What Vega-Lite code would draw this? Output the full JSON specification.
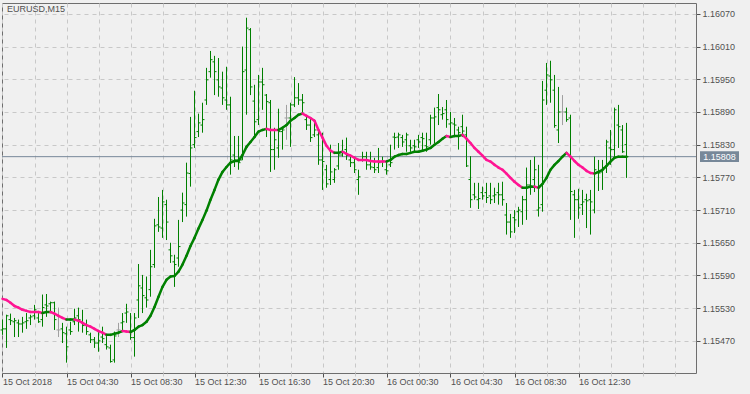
{
  "$schema": "https://vega.github.io/schema/vega-lite/v6.json",
  "width": 694,
  "height": 370,
  "autosize": {"type": "none"},
  "padding": {"left": 2, "top": 3, "right": 54, "bottom": 21},
  "background": "#f0f0f0",
  "config": {
    "view": {"stroke": "#6e6e6e", "strokeWidth": 1, "fill": "#f0f0f0"},
    "font": "Liberation Sans",
    "axis": {
      "grid": true, "gridDash": [4, 4], "gridColor": "#c8c8c8", "gridWidth": 1,
      "domain": false, "tickColor": "#505050",
      "labelFont": "Liberation Sans", "labelFontSize": 9, "labelColor": "#505050",
      "labelOverlap": false, "labelBound": false, "labelFlush": false, "title": null
    }
  },
  "title": {"text": "EURUSD,M15", "anchor": "start", "frame": "group", "offset": -11, "dx": 5, "fontSize": 9, "font": "Liberation Sans", "fontWeight": "normal", "color": "#505050"},
  "datasets": {
    "bars": [
      {"i":0,"o":1.15490,"h":1.15509,"l":1.15481,"c":1.15492,"ma":1.15547,"d":"d"},
      {"i":1,"o":1.15492,"h":1.15518,"l":1.15457,"c":1.15516,"ma":1.15545,"d":"d"},
      {"i":2,"o":1.15509,"h":1.15520,"l":1.15499,"c":1.15507,"ma":1.15540,"d":"d"},
      {"i":3,"o":1.15505,"h":1.15512,"l":1.15477,"c":1.15507,"ma":1.15534,"d":"d"},
      {"i":4,"o":1.15503,"h":1.15509,"l":1.15477,"c":1.15501,"ma":1.15531,"d":"d"},
      {"i":5,"o":1.15501,"h":1.15514,"l":1.15485,"c":1.15503,"ma":1.15527,"d":"d"},
      {"i":6,"o":1.15505,"h":1.15521,"l":1.15492,"c":1.15507,"ma":1.15525,"d":"d"},
      {"i":7,"o":1.15512,"h":1.15518,"l":1.15499,"c":1.15514,"ma":1.15523,"d":"d"},
      {"i":8,"o":1.15516,"h":1.15536,"l":1.15509,"c":1.15527,"ma":1.15523,"d":"d"},
      {"i":9,"o":1.15512,"h":1.15521,"l":1.15503,"c":1.15505,"ma":1.15523,"d":"d"},
      {"i":10,"o":1.15509,"h":1.15555,"l":1.15496,"c":1.15531,"ma":1.15521,"d":"d"},
      {"i":11,"o":1.15536,"h":1.15556,"l":1.15514,"c":1.15534,"ma":1.15523,"d":"u"},
      {"i":12,"o":1.15538,"h":1.15542,"l":1.15521,"c":1.15540,"ma":1.15523,"d":"u"},
      {"i":13,"o":1.15540,"h":1.15542,"l":1.15490,"c":1.15509,"ma":1.15520,"d":"d"},
      {"i":14,"o":1.15490,"h":1.15531,"l":1.15477,"c":1.15490,"ma":1.15516,"d":"d"},
      {"i":15,"o":1.15492,"h":1.15503,"l":1.15466,"c":1.15485,"ma":1.15512,"d":"d"},
      {"i":16,"o":1.15483,"h":1.15496,"l":1.15430,"c":1.15459,"ma":1.15509,"d":"d"},
      {"i":17,"o":1.15490,"h":1.15505,"l":1.15481,"c":1.15487,"ma":1.15509,"d":"u"},
      {"i":18,"o":1.15505,"h":1.15529,"l":1.15499,"c":1.15512,"ma":1.15509,"d":"u"},
      {"i":19,"o":1.15516,"h":1.15531,"l":1.15487,"c":1.15509,"ma":1.15507,"d":"d"},
      {"i":20,"o":1.15505,"h":1.15527,"l":1.15485,"c":1.15498,"ma":1.15503,"d":"d"},
      {"i":21,"o":1.15499,"h":1.15509,"l":1.15481,"c":1.15487,"ma":1.15499,"d":"d"},
      {"i":22,"o":1.15481,"h":1.15485,"l":1.15466,"c":1.15472,"ma":1.15496,"d":"d"},
      {"i":23,"o":1.15472,"h":1.15477,"l":1.15457,"c":1.15466,"ma":1.15492,"d":"d"},
      {"i":24,"o":1.15466,"h":1.15490,"l":1.15450,"c":1.15470,"ma":1.15488,"d":"d"},
      {"i":25,"o":1.15477,"h":1.15496,"l":1.15466,"c":1.15474,"ma":1.15485,"d":"d"},
      {"i":26,"o":1.15463,"h":1.15481,"l":1.15454,"c":1.15459,"ma":1.15481,"d":"d"},
      {"i":27,"o":1.15457,"h":1.15463,"l":1.15430,"c":1.15432,"ma":1.15481,"d":"u"},
      {"i":28,"o":1.15435,"h":1.15487,"l":1.15430,"c":1.15479,"ma":1.15483,"d":"u"},
      {"i":29,"o":1.15490,"h":1.15503,"l":1.15477,"c":1.15490,"ma":1.15485,"d":"u"},
      {"i":30,"o":1.15503,"h":1.15521,"l":1.15487,"c":1.15505,"ma":1.15488,"d":"u"},
      {"i":31,"o":1.15521,"h":1.15538,"l":1.15503,"c":1.15523,"ma":1.15487,"d":"d"},
      {"i":32,"o":1.15488,"h":1.15521,"l":1.15472,"c":1.15476,"ma":1.15486,"d":"d"},
      {"i":33,"o":1.15476,"h":1.15521,"l":1.15441,"c":1.15512,"ma":1.15490,"d":"u"},
      {"i":34,"o":1.15545,"h":1.15611,"l":1.15512,"c":1.15571,"ma":1.15496,"d":"u"},
      {"i":35,"o":1.15567,"h":1.15591,"l":1.15521,"c":1.15553,"ma":1.15499,"d":"u"},
      {"i":36,"o":1.15549,"h":1.15588,"l":1.15531,"c":1.15545,"ma":1.15505,"d":"u"},
      {"i":37,"o":1.15564,"h":1.15637,"l":1.15551,"c":1.15606,"ma":1.15516,"d":"u"},
      {"i":38,"o":1.15610,"h":1.15694,"l":1.15604,"c":1.15681,"ma":1.15532,"d":"u"},
      {"i":39,"o":1.15683,"h":1.15734,"l":1.15670,"c":1.15679,"ma":1.15551,"d":"u"},
      {"i":40,"o":1.15677,"h":1.15747,"l":1.15659,"c":1.15725,"ma":1.15569,"d":"u"},
      {"i":41,"o":1.15720,"h":1.15729,"l":1.15655,"c":1.15688,"ma":1.15582,"d":"u"},
      {"i":42,"o":1.15637,"h":1.15650,"l":1.15613,"c":1.15626,"ma":1.15588,"d":"u"},
      {"i":43,"o":1.15615,"h":1.15628,"l":1.15569,"c":1.15610,"ma":1.15589,"d":"u"},
      {"i":44,"o":1.15622,"h":1.15692,"l":1.15606,"c":1.15643,"ma":1.15597,"d":"u"},
      {"i":45,"o":1.15710,"h":1.15742,"l":1.15688,"c":1.15723,"ma":1.15610,"d":"u"},
      {"i":46,"o":1.15720,"h":1.15797,"l":1.15698,"c":1.15778,"ma":1.15626,"d":"u"},
      {"i":47,"o":1.15777,"h":1.15881,"l":1.15753,"c":1.15824,"ma":1.15644,"d":"u"},
      {"i":48,"o":1.15830,"h":1.15929,"l":1.15824,"c":1.15843,"ma":1.15659,"d":"u"},
      {"i":49,"o":1.15854,"h":1.15887,"l":1.15844,"c":1.15870,"ma":1.15676,"d":"u"},
      {"i":50,"o":1.15866,"h":1.15907,"l":1.15852,"c":1.15876,"ma":1.15692,"d":"u"},
      {"i":51,"o":1.15912,"h":1.15971,"l":1.15903,"c":1.15949,"ma":1.15709,"d":"u"},
      {"i":52,"o":1.15964,"h":1.16002,"l":1.15953,"c":1.15986,"ma":1.15729,"d":"u"},
      {"i":53,"o":1.15982,"h":1.15993,"l":1.15921,"c":1.15964,"ma":1.15747,"d":"u"},
      {"i":54,"o":1.15949,"h":1.15989,"l":1.15918,"c":1.15936,"ma":1.15766,"d":"u"},
      {"i":55,"o":1.15934,"h":1.15964,"l":1.15903,"c":1.15916,"ma":1.15780,"d":"u"},
      {"i":56,"o":1.15912,"h":1.15973,"l":1.15894,"c":1.15903,"ma":1.15789,"d":"u"},
      {"i":57,"o":1.15903,"h":1.15918,"l":1.15775,"c":1.15802,"ma":1.15797,"d":"u"},
      {"i":58,"o":1.15811,"h":1.15846,"l":1.15789,"c":1.15802,"ma":1.15800,"d":"u"},
      {"i":59,"o":1.15802,"h":1.15846,"l":1.15784,"c":1.15797,"ma":1.15800,"d":"u"},
      {"i":60,"o":1.15802,"h":1.16010,"l":1.15802,"c":1.15964,"ma":1.15811,"d":"u"},
      {"i":61,"o":1.15967,"h":1.16063,"l":1.15885,"c":1.16044,"ma":1.15826,"d":"u"},
      {"i":62,"o":1.16041,"h":1.16044,"l":1.15921,"c":1.15936,"ma":1.15835,"d":"u"},
      {"i":63,"o":1.15910,"h":1.15940,"l":1.15843,"c":1.15872,"ma":1.15844,"d":"u"},
      {"i":64,"o":1.15876,"h":1.15958,"l":1.15866,"c":1.15945,"ma":1.15854,"d":"u"},
      {"i":65,"o":1.15945,"h":1.15971,"l":1.15894,"c":1.15940,"ma":1.15857,"d":"u"},
      {"i":66,"o":1.15921,"h":1.15923,"l":1.15844,"c":1.15909,"ma":1.15859,"d":"u"},
      {"i":67,"o":1.15907,"h":1.15912,"l":1.15780,"c":1.15821,"ma":1.15857,"d":"d"},
      {"i":68,"o":1.15821,"h":1.15861,"l":1.15784,"c":1.15839,"ma":1.15857,"d":"d"},
      {"i":69,"o":1.15824,"h":1.15896,"l":1.15806,"c":1.15854,"ma":1.15857,"d":"d"},
      {"i":70,"o":1.15854,"h":1.15861,"l":1.15821,"c":1.15857,"ma":1.15861,"d":"u"},
      {"i":71,"o":1.15879,"h":1.15903,"l":1.15839,"c":1.15879,"ma":1.15866,"d":"u"},
      {"i":72,"o":1.15879,"h":1.15907,"l":1.15826,"c":1.15903,"ma":1.15874,"d":"u"},
      {"i":73,"o":1.15903,"h":1.15954,"l":1.15899,"c":1.15916,"ma":1.15879,"d":"u"},
      {"i":74,"o":1.15916,"h":1.15943,"l":1.15903,"c":1.15912,"ma":1.15885,"d":"u"},
      {"i":75,"o":1.15912,"h":1.15923,"l":1.15888,"c":1.15907,"ma":1.15887,"d":"u"},
      {"i":76,"o":1.15876,"h":1.15881,"l":1.15857,"c":1.15866,"ma":1.15883,"d":"d"},
      {"i":77,"o":1.15866,"h":1.15879,"l":1.15835,"c":1.15843,"ma":1.15879,"d":"d"},
      {"i":78,"o":1.15848,"h":1.15876,"l":1.15844,"c":1.15857,"ma":1.15874,"d":"d"},
      {"i":79,"o":1.15848,"h":1.15857,"l":1.15793,"c":1.15802,"ma":1.15857,"d":"d"},
      {"i":80,"o":1.15802,"h":1.15852,"l":1.15747,"c":1.15799,"ma":1.15843,"d":"d"},
      {"i":81,"o":1.15784,"h":1.15793,"l":1.15751,"c":1.15758,"ma":1.15828,"d":"d"},
      {"i":82,"o":1.15766,"h":1.15830,"l":1.15756,"c":1.15780,"ma":1.15819,"d":"d"},
      {"i":83,"o":1.15766,"h":1.15787,"l":1.15760,"c":1.15784,"ma":1.15815,"d":"d"},
      {"i":84,"o":1.15791,"h":1.15833,"l":1.15784,"c":1.15811,"ma":1.15815,"d":"u"},
      {"i":85,"o":1.15811,"h":1.15839,"l":1.15808,"c":1.15817,"ma":1.15817,"d":"u"},
      {"i":86,"o":1.15821,"h":1.15843,"l":1.15802,"c":1.15810,"ma":1.15813,"d":"d"},
      {"i":87,"o":1.15802,"h":1.15811,"l":1.15789,"c":1.15797,"ma":1.15810,"d":"d"},
      {"i":88,"o":1.15797,"h":1.15808,"l":1.15778,"c":1.15784,"ma":1.15806,"d":"d"},
      {"i":89,"o":1.15766,"h":1.15784,"l":1.15738,"c":1.15771,"ma":1.15802,"d":"d"},
      {"i":90,"o":1.15802,"h":1.15817,"l":1.15799,"c":1.15808,"ma":1.15802,"d":"d"},
      {"i":91,"o":1.15808,"h":1.15817,"l":1.15784,"c":1.15793,"ma":1.15802,"d":"d"},
      {"i":92,"o":1.15793,"h":1.15817,"l":1.15784,"c":1.15789,"ma":1.15800,"d":"d"},
      {"i":93,"o":1.15788,"h":1.15806,"l":1.15778,"c":1.15784,"ma":1.15799,"d":"d"},
      {"i":94,"o":1.15788,"h":1.15824,"l":1.15778,"c":1.15797,"ma":1.15799,"d":"d"},
      {"i":95,"o":1.15799,"h":1.15808,"l":1.15789,"c":1.15800,"ma":1.15799,"d":"d"},
      {"i":96,"o":1.15784,"h":1.15802,"l":1.15775,"c":1.15782,"ma":1.15799,"d":"d"},
      {"i":97,"o":1.15793,"h":1.15830,"l":1.15789,"c":1.15797,"ma":1.15802,"d":"u"},
      {"i":98,"o":1.15844,"h":1.15852,"l":1.15821,"c":1.15843,"ma":1.15808,"d":"u"},
      {"i":99,"o":1.15844,"h":1.15852,"l":1.15824,"c":1.15848,"ma":1.15811,"d":"u"},
      {"i":100,"o":1.15843,"h":1.15848,"l":1.15826,"c":1.15835,"ma":1.15813,"d":"u"},
      {"i":101,"o":1.15839,"h":1.15852,"l":1.15817,"c":1.15848,"ma":1.15813,"d":"u"},
      {"i":102,"o":1.15828,"h":1.15839,"l":1.15817,"c":1.15824,"ma":1.15815,"d":"u"},
      {"i":103,"o":1.15828,"h":1.15839,"l":1.15817,"c":1.15826,"ma":1.15817,"d":"u"},
      {"i":104,"o":1.15839,"h":1.15848,"l":1.15824,"c":1.15835,"ma":1.15817,"d":"u"},
      {"i":105,"o":1.15843,"h":1.15852,"l":1.15817,"c":1.15841,"ma":1.15819,"d":"u"},
      {"i":106,"o":1.15828,"h":1.15852,"l":1.15817,"c":1.15826,"ma":1.15821,"d":"u"},
      {"i":107,"o":1.15839,"h":1.15885,"l":1.15830,"c":1.15879,"ma":1.15824,"d":"u"},
      {"i":108,"o":1.15879,"h":1.15898,"l":1.15833,"c":1.15881,"ma":1.15830,"d":"u"},
      {"i":109,"o":1.15898,"h":1.15923,"l":1.15866,"c":1.15894,"ma":1.15835,"d":"u"},
      {"i":110,"o":1.15885,"h":1.15899,"l":1.15876,"c":1.15887,"ma":1.15841,"d":"u"},
      {"i":111,"o":1.15894,"h":1.15912,"l":1.15861,"c":1.15876,"ma":1.15846,"d":"u"},
      {"i":112,"o":1.15868,"h":1.15890,"l":1.15844,"c":1.15870,"ma":1.15844,"d":"d"},
      {"i":113,"o":1.15868,"h":1.15879,"l":1.15844,"c":1.15866,"ma":1.15846,"d":"u"},
      {"i":114,"o":1.15857,"h":1.15863,"l":1.15821,"c":1.15852,"ma":1.15846,"d":"u"},
      {"i":115,"o":1.15863,"h":1.15885,"l":1.15844,"c":1.15855,"ma":1.15848,"d":"u"},
      {"i":116,"o":1.15848,"h":1.15863,"l":1.15789,"c":1.15791,"ma":1.15841,"d":"d"},
      {"i":117,"o":1.15766,"h":1.15809,"l":1.15714,"c":1.15729,"ma":1.15833,"d":"d"},
      {"i":118,"o":1.15738,"h":1.15760,"l":1.15729,"c":1.15734,"ma":1.15824,"d":"d"},
      {"i":119,"o":1.15729,"h":1.15760,"l":1.15712,"c":1.15731,"ma":1.15817,"d":"d"},
      {"i":120,"o":1.15742,"h":1.15753,"l":1.15729,"c":1.15736,"ma":1.15810,"d":"d"},
      {"i":121,"o":1.15742,"h":1.15760,"l":1.15723,"c":1.15733,"ma":1.15802,"d":"d"},
      {"i":122,"o":1.15736,"h":1.15760,"l":1.15721,"c":1.15729,"ma":1.15799,"d":"d"},
      {"i":123,"o":1.15736,"h":1.15751,"l":1.15723,"c":1.15738,"ma":1.15793,"d":"d"},
      {"i":124,"o":1.15742,"h":1.15760,"l":1.15720,"c":1.15738,"ma":1.15788,"d":"d"},
      {"i":125,"o":1.15738,"h":1.15762,"l":1.15718,"c":1.15729,"ma":1.15784,"d":"d"},
      {"i":126,"o":1.15701,"h":1.15723,"l":1.15665,"c":1.15688,"ma":1.15777,"d":"d"},
      {"i":127,"o":1.15688,"h":1.15703,"l":1.15659,"c":1.15670,"ma":1.15769,"d":"d"},
      {"i":128,"o":1.15696,"h":1.15710,"l":1.15668,"c":1.15692,"ma":1.15762,"d":"d"},
      {"i":129,"o":1.15707,"h":1.15716,"l":1.15679,"c":1.15710,"ma":1.15756,"d":"d"},
      {"i":130,"o":1.15707,"h":1.15736,"l":1.15683,"c":1.15729,"ma":1.15751,"d":"d"},
      {"i":131,"o":1.15729,"h":1.15788,"l":1.15692,"c":1.15756,"ma":1.15751,"d":"u"},
      {"i":132,"o":1.15756,"h":1.15802,"l":1.15738,"c":1.15754,"ma":1.15753,"d":"u"},
      {"i":133,"o":1.15766,"h":1.15808,"l":1.15743,"c":1.15784,"ma":1.15753,"d":"u"},
      {"i":134,"o":1.15710,"h":1.15793,"l":1.15698,"c":1.15714,"ma":1.15751,"d":"d"},
      {"i":135,"o":1.15720,"h":1.15947,"l":1.15707,"c":1.15912,"ma":1.15758,"d":"u"},
      {"i":136,"o":1.15930,"h":1.15980,"l":1.15903,"c":1.15958,"ma":1.15769,"d":"u"},
      {"i":137,"o":1.15956,"h":1.15984,"l":1.15907,"c":1.15949,"ma":1.15784,"d":"u"},
      {"i":138,"o":1.15930,"h":1.15958,"l":1.15861,"c":1.15865,"ma":1.15793,"d":"u"},
      {"i":139,"o":1.15857,"h":1.15936,"l":1.15833,"c":1.15890,"ma":1.15800,"d":"u"},
      {"i":140,"o":1.15890,"h":1.15921,"l":1.15866,"c":1.15890,"ma":1.15808,"d":"u"},
      {"i":141,"o":1.15890,"h":1.15898,"l":1.15872,"c":1.15876,"ma":1.15815,"d":"u"},
      {"i":142,"o":1.15879,"h":1.15885,"l":1.15692,"c":1.15744,"ma":1.15808,"d":"d"},
      {"i":143,"o":1.15738,"h":1.15747,"l":1.15659,"c":1.15729,"ma":1.15800,"d":"d"},
      {"i":144,"o":1.15729,"h":1.15749,"l":1.15694,"c":1.15714,"ma":1.15793,"d":"d"},
      {"i":145,"o":1.15720,"h":1.15747,"l":1.15701,"c":1.15725,"ma":1.15788,"d":"d"},
      {"i":146,"o":1.15729,"h":1.15740,"l":1.15677,"c":1.15727,"ma":1.15782,"d":"d"},
      {"i":147,"o":1.15729,"h":1.15747,"l":1.15665,"c":1.15725,"ma":1.15778,"d":"d"},
      {"i":148,"o":1.15710,"h":1.15808,"l":1.15704,"c":1.15784,"ma":1.15777,"d":"d"},
      {"i":149,"o":1.15780,"h":1.15802,"l":1.15745,"c":1.15778,"ma":1.15780,"d":"u"},
      {"i":150,"o":1.15780,"h":1.15802,"l":1.15747,"c":1.15788,"ma":1.15784,"d":"u"},
      {"i":151,"o":1.15788,"h":1.15839,"l":1.15778,"c":1.15835,"ma":1.15791,"d":"u"},
      {"i":152,"o":1.15824,"h":1.15857,"l":1.15793,"c":1.15821,"ma":1.15799,"d":"u"},
      {"i":153,"o":1.15821,"h":1.15898,"l":1.15806,"c":1.15894,"ma":1.15806,"d":"u"},
      {"i":154,"o":1.15866,"h":1.15903,"l":1.15824,"c":1.15863,"ma":1.15808,"d":"u"},
      {"i":155,"o":1.15857,"h":1.15866,"l":1.15815,"c":1.15817,"ma":1.15808,"d":"u"},
      {"i":156,"o":1.15830,"h":1.15870,"l":1.15769,"c":1.15808,"ma":1.15808,"d":"u"}
    ],
    "last": [{"p": 1.15808}]
  },
  "layer": [
    {
      "data": {"name": "last"},
      "mark": {"type": "rule", "color": "#778899", "strokeWidth": 1},
      "encoding": {
        "y": {"field": "p", "type": "quantitative", "title": null,
          "scale": {"domain": [1.15411, 1.16090], "nice": false, "zero": false},
          "axis": {"orient": "right", "values": [1.1547, 1.1553, 1.1559, 1.1565, 1.1571, 1.1577, 1.1583, 1.1589, 1.1595, 1.1601, 1.1607], "format": ".5f", "tickSize": 4, "labelPadding": 2}}
      }
    },
    {
      "data": {"name": "bars"},
      "mark": {"type": "rule", "strokeWidth": 1},
      "encoding": {
        "x": {"field": "i", "type": "quantitative", "title": null,
          "scale": {"domain": [-0.125, 173.375], "nice": false, "zero": false},
          "axis": {
            "values": [0,8,16,24,32,40,48,56,64,72,80,88,96,104,112,120,128,136,144,152,160,168],
            "labelExpr": "datum.value % 16 == 0 && datum.value <= 144 ? ['15 Oct 2018','15 Oct 04:30','15 Oct 08:30','15 Oct 12:30','15 Oct 16:30','15 Oct 20:30','16 Oct 00:30','16 Oct 04:30','16 Oct 08:30','16 Oct 12:30'][datum.value / 16] : ''",
            "tickColor": {"condition": {"test": "datum.value % 16 == 0 && datum.value <= 144", "value": "#505050"}, "value": "#c8c8c8"},
            "tickSize": {"condition": {"test": "datum.value % 16 == 0 && datum.value <= 144", "value": 4}, "value": 3},
            "labelAlign": "left", "labelPadding": 0}},
        "y": {"field": "l", "type": "quantitative", "title": null,
          "axis": {"orient": "right", "values": [1.1547, 1.1553, 1.1559, 1.1565, 1.1571, 1.1577, 1.1583, 1.1589, 1.1595, 1.1601, 1.1607], "format": ".5f", "tickSize": 4, "labelPadding": 2}},
        "y2": {"field": "h"},
        "color": {"condition": {"test": "datum.o == datum.c", "value": "#a0a0a0"}, "value": "#008000"}
      }
    },
    {
      "data": {"name": "bars"},
      "mark": {"type": "rule", "strokeWidth": 1, "xOffset": -2},
      "encoding": {
        "x": {"field": "i", "type": "quantitative", "title": null,
          "axis": {
            "values": [0,8,16,24,32,40,48,56,64,72,80,88,96,104,112,120,128,136,144,152,160,168],
            "labelExpr": "datum.value % 16 == 0 && datum.value <= 144 ? ['15 Oct 2018','15 Oct 04:30','15 Oct 08:30','15 Oct 12:30','15 Oct 16:30','15 Oct 20:30','16 Oct 00:30','16 Oct 04:30','16 Oct 08:30','16 Oct 12:30'][datum.value / 16] : ''",
            "tickColor": {"condition": {"test": "datum.value % 16 == 0 && datum.value <= 144", "value": "#505050"}, "value": "#c8c8c8"},
            "tickSize": {"condition": {"test": "datum.value % 16 == 0 && datum.value <= 144", "value": 4}, "value": 3},
            "labelAlign": "left", "labelPadding": 0}},
        "x2": {"field": "i"},
        "y": {"field": "o", "type": "quantitative", "title": null,
          "axis": {"orient": "right", "values": [1.1547, 1.1553, 1.1559, 1.1565, 1.1571, 1.1577, 1.1583, 1.1589, 1.1595, 1.1601, 1.1607], "format": ".5f", "tickSize": 4, "labelPadding": 2}},
        "color": {"condition": {"test": "datum.o == datum.c", "value": "#a0a0a0"}, "value": "#008000"}
      }
    },
    {
      "data": {"name": "bars"},
      "mark": {"type": "rule", "strokeWidth": 1, "x2Offset": 2},
      "encoding": {
        "x": {"field": "i", "type": "quantitative", "title": null,
          "axis": {
            "values": [0,8,16,24,32,40,48,56,64,72,80,88,96,104,112,120,128,136,144,152,160,168],
            "labelExpr": "datum.value % 16 == 0 && datum.value <= 144 ? ['15 Oct 2018','15 Oct 04:30','15 Oct 08:30','15 Oct 12:30','15 Oct 16:30','15 Oct 20:30','16 Oct 00:30','16 Oct 04:30','16 Oct 08:30','16 Oct 12:30'][datum.value / 16] : ''",
            "tickColor": {"condition": {"test": "datum.value % 16 == 0 && datum.value <= 144", "value": "#505050"}, "value": "#c8c8c8"},
            "tickSize": {"condition": {"test": "datum.value % 16 == 0 && datum.value <= 144", "value": 4}, "value": 3},
            "labelAlign": "left", "labelPadding": 0}},
        "x2": {"field": "i"},
        "y": {"field": "c", "type": "quantitative", "title": null,
          "axis": {"orient": "right", "values": [1.1547, 1.1553, 1.1559, 1.1565, 1.1571, 1.1577, 1.1583, 1.1589, 1.1595, 1.1601, 1.1607], "format": ".5f", "tickSize": 4, "labelPadding": 2}},
        "color": {"condition": {"test": "datum.o == datum.c", "value": "#a0a0a0"}, "value": "#008000"}
      }
    },
    {
      "data": {"name": "bars"},
      "transform": [
        {"window": [
          {"op": "lead", "field": "i", "as": "i2"},
          {"op": "lead", "field": "ma", "as": "ma2"},
          {"op": "lead", "field": "d", "as": "d2"}
        ], "sort": [{"field": "i", "order": "ascending"}], "frame": [null, null]},
        {"filter": "datum.i2 != null"}
      ],
      "mark": {"type": "rule", "strokeWidth": 2.5, "strokeCap": "round"},
      "encoding": {
        "x": {"field": "i", "type": "quantitative", "title": null,
          "axis": {
            "values": [0,8,16,24,32,40,48,56,64,72,80,88,96,104,112,120,128,136,144,152,160,168],
            "labelExpr": "datum.value % 16 == 0 && datum.value <= 144 ? ['15 Oct 2018','15 Oct 04:30','15 Oct 08:30','15 Oct 12:30','15 Oct 16:30','15 Oct 20:30','16 Oct 00:30','16 Oct 04:30','16 Oct 08:30','16 Oct 12:30'][datum.value / 16] : ''",
            "tickColor": {"condition": {"test": "datum.value % 16 == 0 && datum.value <= 144", "value": "#505050"}, "value": "#c8c8c8"},
            "tickSize": {"condition": {"test": "datum.value % 16 == 0 && datum.value <= 144", "value": 4}, "value": 3},
            "labelAlign": "left", "labelPadding": 0}},
        "x2": {"field": "i2"},
        "y": {"field": "ma", "type": "quantitative", "title": null,
          "axis": {"orient": "right", "values": [1.1547, 1.1553, 1.1559, 1.1565, 1.1571, 1.1577, 1.1583, 1.1589, 1.1595, 1.1601, 1.1607], "format": ".5f", "tickSize": 4, "labelPadding": 2}},
        "y2": {"field": "ma2"},
        "color": {"condition": {"test": "datum.d2 == 'u'", "value": "#008000"}, "value": "#ff1493"}
      }
    },
    {
      "data": {"name": "last"},
      "mark": {"type": "rect", "color": "#778899"},
      "encoding": {
        "x": {"datum": 174.375, "type": "quantitative", "title": null,
          "axis": {
            "values": [0,8,16,24,32,40,48,56,64,72,80,88,96,104,112,120,128,136,144,152,160,168],
            "labelExpr": "datum.value % 16 == 0 && datum.value <= 144 ? ['15 Oct 2018','15 Oct 04:30','15 Oct 08:30','15 Oct 12:30','15 Oct 16:30','15 Oct 20:30','16 Oct 00:30','16 Oct 04:30','16 Oct 08:30','16 Oct 12:30'][datum.value / 16] : ''",
            "tickColor": {"condition": {"test": "datum.value % 16 == 0 && datum.value <= 144", "value": "#505050"}, "value": "#c8c8c8"},
            "tickSize": {"condition": {"test": "datum.value % 16 == 0 && datum.value <= 144", "value": 4}, "value": 3},
            "labelAlign": "left", "labelPadding": 0}},
        "x2": {"datum": 184.125},
        "y": {"datum": 1.15818, "type": "quantitative", "title": null,
          "axis": {"orient": "right", "values": [1.1547, 1.1553, 1.1559, 1.1565, 1.1571, 1.1577, 1.1583, 1.1589, 1.1595, 1.1601, 1.1607], "format": ".5f", "tickSize": 4, "labelPadding": 2}},
        "y2": {"datum": 1.15798}
      }
    },
    {
      "data": {"name": "last"},
      "mark": {"type": "text", "color": "#ffffff", "font": "Liberation Sans", "fontSize": 9, "align": "center", "baseline": "middle"},
      "encoding": {
        "x": {"datum": 179.25, "type": "quantitative", "title": null,
          "axis": {
            "values": [0,8,16,24,32,40,48,56,64,72,80,88,96,104,112,120,128,136,144,152,160,168],
            "labelExpr": "datum.value % 16 == 0 && datum.value <= 144 ? ['15 Oct 2018','15 Oct 04:30','15 Oct 08:30','15 Oct 12:30','15 Oct 16:30','15 Oct 20:30','16 Oct 00:30','16 Oct 04:30','16 Oct 08:30','16 Oct 12:30'][datum.value / 16] : ''",
            "tickColor": {"condition": {"test": "datum.value % 16 == 0 && datum.value <= 144", "value": "#505050"}, "value": "#c8c8c8"},
            "tickSize": {"condition": {"test": "datum.value % 16 == 0 && datum.value <= 144", "value": 4}, "value": 3},
            "labelAlign": "left", "labelPadding": 0}},
        "y": {"field": "p", "type": "quantitative", "title": null,
          "axis": {"orient": "right", "values": [1.1547, 1.1553, 1.1559, 1.1565, 1.1571, 1.1577, 1.1583, 1.1589, 1.1595, 1.1601, 1.1607], "format": ".5f", "tickSize": 4, "labelPadding": 2}},
        "text": {"field": "p", "type": "quantitative", "format": ".5f"}
      }
    }
  ]
}
